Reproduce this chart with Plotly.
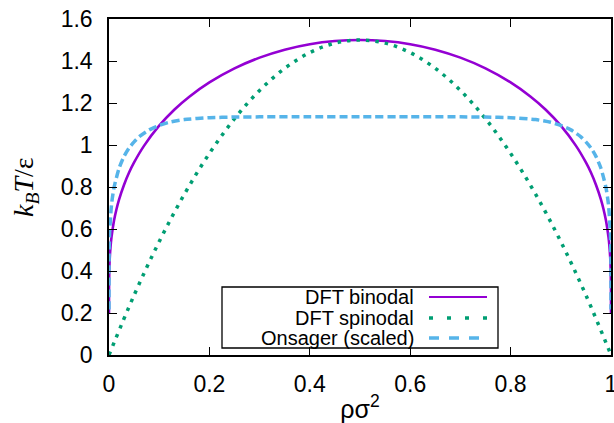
import plotly.graph_objects as go

# ---- data ----
rho_bin = [3e-7, 1e-5, 1e-4, 0.001, 0.003, 0.005, 0.01, 0.015, 0.02, 0.03, 0.04, 0.05, 0.07,
           0.10, 0.13, 0.16, 0.20, 0.25, 0.30, 0.35, 0.40, 0.45, 0.50,
           0.55, 0.60, 0.65, 0.70, 0.75, 0.80, 0.84, 0.87, 0.90, 0.93, 0.95, 0.96, 0.97,
           0.98, 0.985, 0.99, 0.995, 0.997, 0.999, 0.9999, 0.99999, 0.9999997]
T_bin = [0.200, 0.261, 0.326, 0.434, 0.514, 0.561, 0.640, 0.695, 0.740, 0.811, 0.869, 0.917, 0.997,
         1.092, 1.168, 1.230, 1.298, 1.365, 1.416, 1.454, 1.480, 1.495, 1.500,
         1.495, 1.480, 1.454, 1.416, 1.365, 1.298, 1.230, 1.168, 1.092, 0.997, 0.917, 0.869, 0.811,
         0.740, 0.695, 0.640, 0.561, 0.514, 0.434, 0.326, 0.261, 0.200]

rho_sp = [0.0, 0.05, 0.10, 0.15, 0.20, 0.25, 0.30, 0.35, 0.40, 0.45, 0.50,
          0.55, 0.60, 0.65, 0.70, 0.75, 0.80, 0.85, 0.90, 0.95, 1.0]
T_sp = [0.0, 0.285, 0.540, 0.765, 0.960, 1.125, 1.260, 1.365, 1.440, 1.485, 1.500,
        1.485, 1.440, 1.365, 1.260, 1.125, 0.960, 0.765, 0.540, 0.285, 0.0]

rho_ons = [1e-8, 1e-6, 1e-5, 1e-4, 0.001, 0.005, 0.01, 0.02, 0.03, 0.04, 0.05, 0.06, 0.08,
           0.10, 0.12, 0.15, 0.20, 0.25, 0.30, 0.40, 0.50,
           0.60, 0.70, 0.75, 0.80, 0.85, 0.88, 0.90, 0.92, 0.94, 0.95, 0.96, 0.97,
           0.98, 0.99, 0.995, 0.999, 0.9999, 0.99999, 0.999999, 0.99999999]
T_ons = [0.217, 0.289, 0.347, 0.432, 0.568, 0.716, 0.797, 0.889, 0.946, 0.986, 1.015, 1.039, 1.072,
         1.093, 1.108, 1.121, 1.130, 1.133, 1.134, 1.134, 1.134,
         1.134, 1.134, 1.133, 1.130, 1.121, 1.108, 1.093, 1.072, 1.039, 1.015, 0.986, 0.946,
         0.889, 0.797, 0.716, 0.568, 0.432, 0.347, 0.289, 0.217]

x_ticks = [0, 0.2, 0.4, 0.6, 0.8, 1.0]
x_ticktext = ["0", "0.2", "0.4", "0.6", "0.8", "1"]
y_ticks = [0, 0.2, 0.4, 0.6, 0.8, 1.0, 1.2, 1.4, 1.6]
y_ticktext = ["0", "0.2", "0.4", "0.6", "0.8", "1", "1.2", "1.4", "1.6"]

series_names = ["DFT binodal", "DFT spinodal", "Onsager (scaled)"]
c_bin, c_sp, c_ons = "#9400D3", "#009E73", "#56B4E9"

fig = go.Figure()
fig.add_trace(go.Scatter(x=rho_bin, y=T_bin, mode="lines", name=series_names[0],
                         line=dict(color=c_bin, width=2.6, shape="spline", smoothing=0.6)))
fig.add_trace(go.Scatter(x=rho_sp, y=T_sp, mode="lines", name=series_names[1],
                         line=dict(color=c_sp, width=3.5, dash="3.5px,6px", shape="spline", smoothing=1)))
fig.add_trace(go.Scatter(x=rho_ons, y=T_ons, mode="lines", name=series_names[2],
                         line=dict(color=c_ons, width=3.5, dash="8px,4px", shape="spline", smoothing=0.6)))

W, H = 614, 423
L, R, T, B = 109, 611, 19, 355


def px(xp):
    return (xp - L) / (R - L)


def py(yp):
    return (B - yp) / (B - T)


font_family = "Liberation Sans, Arial, sans-serif"
shapes = [dict(type="rect", xref="paper", yref="paper", x0=px(222), x1=px(498), y0=py(348), y1=py(287),
               line=dict(color="black", width=1.3), fillcolor="rgba(0,0,0,0)")]
annotations = []
leg_y = [297, 318, 338]
leg_styles = [dict(color=c_bin, width=2.2),
              dict(color=c_sp, width=3.5, dash="4px,14px"),
              dict(color=c_ons, width=3.5, dash="10px,10px")]
for name, yy, st in zip(series_names, leg_y, leg_styles):
    annotations.append(dict(xref="paper", yref="paper", x=px(416), y=py(yy), text=name, showarrow=False,
                            xanchor="right", yanchor="middle", font=dict(family=font_family, size=20, color="black")))
    shapes.append(dict(type="line", xref="paper", yref="paper", x0=px(429), x1=px(487), y0=py(yy), y1=py(yy),
                       line=st))

annotations.append(dict(xref="paper", yref="paper", x=px(25), y=py(187), textangle=-90, showarrow=False,
                        text="<i>k</i><sub><i>B</i></sub><i>T</i>/ε", xanchor="center", yanchor="middle",
                        font=dict(family="Liberation Serif, DejaVu Serif, serif", size=28, color="black")))

axis_common = dict(showline=True, linecolor="black", linewidth=1.5, mirror="ticks", ticks="inside",
                   ticklen=8, tickwidth=1.2, tickcolor="black", showgrid=False, zeroline=False,
                   tickfont=dict(family=font_family, size=23, color="black"), automargin=False,
                   ticklabeloverflow="allow")

fig.update_layout(
    width=W, height=H,
    margin=dict(l=L, r=W - R, t=T, b=H - B),
    paper_bgcolor="white", plot_bgcolor="white",
    showlegend=False,
    shapes=shapes, annotations=annotations,
    xaxis=dict(range=[0, 1], tickvals=x_ticks, ticktext=x_ticktext, ticklabelstandoff=8,
               title=dict(text="ρσ<sup>2</sup>", font=dict(family=font_family, size=25, color="black"), standoff=6),
               **axis_common),
    yaxis=dict(range=[0, 1.6], tickvals=y_ticks, ticktext=y_ticktext, ticklabelstandoff=10, **axis_common),
)

fig.write_html("out.html", config={"displayModeBar": False},
               post_script="document.body.style.margin='0';document.body.style.overflow='hidden';")
